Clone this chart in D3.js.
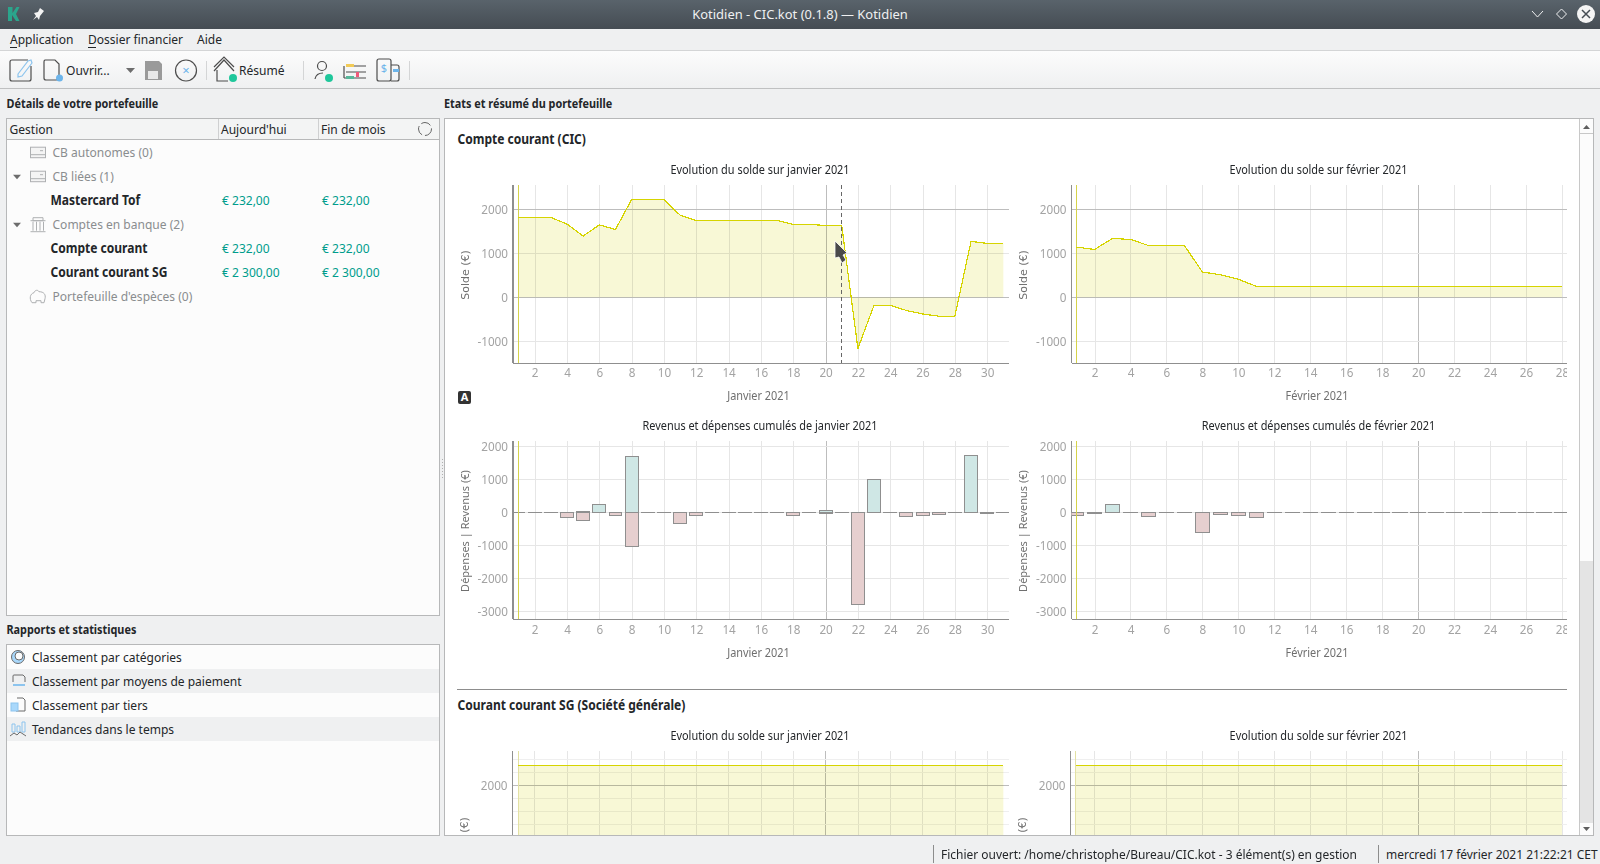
<!DOCTYPE html>
<html>
<head>
<meta charset="utf-8">
<style>
  html, body { margin: 0; padding: 0; background: #eff0f1; overflow: hidden; }
  svg { display: block; font-family: "Noto Sans", sans-serif; }
  /* the screenshot's hinted Noto Sans is about 10% narrower than ours */
  .tick-x text { transform-box: fill-box; transform-origin: center; transform: scaleX(.9); }
  .tick-y text { transform-box: fill-box; transform-origin: right center; transform: scaleX(.9); }
</style>
<script src="https://cdn.jsdelivr.net/npm/d3@7"></script>
</head>
<body>
<script>
// values (euros, one per day)
const janDays = d3.range(1, 32);
const febDays = d3.range(1, 29);

const janSolde = [1820, 1820, 1820, 1667, 1394, 1650, 1545, 2227, 2227, 2227, 1870, 1750, 1750, 1750, 1750, 1750, 1750, 1660, 1660, 1636, 1636, -1167, -182, -182, -300, -380, -430, -430, 1273, 1227, 1227];
const febSolde = [1144, 1090, 1340, 1318, 1180, 1180, 1180, 575, 515, 410, 250, 250, 250, 250, 250, 250, 250, 250, 250, 250, 250, 250, 250, 250, 250, 250, 250, 250];
const janRevenus = [0, 0, 0, 0, 30, 250, 0, 1700, 0, 0, 0, 0, 0, 0, 0, 0, 0, 0, 0, 40, 0, 0, 1000, 0, 0, 0, 0, 0, 1730, 0, 0];
const janDepenses = [0, 0, 0, -160, -250, 0, -100, -1030, 0, 0, -340, -100, 0, 0, 0, 0, 0, -100, 0, -40, 0, -2800, 0, 0, -130, -100, -70, 0, 0, -40, 0];
const febRevenus = [0, 0, 250, 0, 0, 0, 0, 0, 0, 0, 0, 0, 0, 0, 0, 0, 0, 0, 0, 0, 0, 0, 0, 0, 0, 0, 0, 0];
const febDepenses = [-100, -40, 0, 0, -130, 0, 0, -610, -70, -100, -160, 0, 0, 0, 0, 0, 0, 0, 0, 0, 0, 0, 0, 0, 0, 0, 0, 0];
const sgSolde = janDays.map(() => 2300);
const sgSoldeFev = febDays.map(() => 2300);

const soldeTicks = [-1000, 0, 1000, 2000];
const barTicks = [-3000, -2000, -1000, 0, 1000, 2000];
const sgTicks = [2000];
const sgMinor = [1400, 1600, 1800, 2200, 2400];
const evenDays = d3.range(2, 32, 2);
const evenDaysFev = d3.range(2, 29, 2);

const menus = [["Application", 10], ["Dossier financier", 88], ["Aide", 197]];
const treeRows = [
  ["CB autonomes (0)", null, null, 152.7, false, "card"],
  ["CB liées (1)", null, null, 176.7, false, "card"],
  ["Mastercard Tof", "€ 232,00", "€ 232,00", 200.5, true],
  ["Comptes en banque (2)", null, null, 224.7, false, "bank"],
  ["Compte courant", "€ 232,00", "€ 232,00", 248.7, true],
  ["Courant courant SG", "€ 2 300,00", "€ 2 300,00", 272.7, true],
  ["Portefeuille d'espèces (0)", null, null, 296.7, false, "pig"]
];
const reports = ["Classement par catégories", "Classement par moyens de paiement", "Classement par tiers", "Tendances dans le temps"];

const LINE = "#d6d400", AREA = "#f8f8d6", GRID = "#e6e6e6", GRID_DARK = "#bdbdbd", TICK = "#a3a3a3";
const INK = "#232629";

const svg = d3.select("body").append("svg").attr("width", 1600).attr("height", 864);
const defs = svg.append("defs");
const tb = defs.append("linearGradient").attr("id", "tbar").attr("x2", 0).attr("y2", 1);
tb.append("stop").attr("offset", 0).attr("stop-color", "#59636b");
tb.append("stop").attr("offset", 1).attr("stop-color", "#454c53");
const tl = defs.append("linearGradient").attr("id", "tool").attr("x2", 0).attr("y2", 1);
tl.append("stop").attr("offset", 0).attr("stop-color", "#fcfcfc");
tl.append("stop").attr("offset", 1).attr("stop-color", "#eff0f1");

function rect(p, x, y, w, h, fill, stroke) {
  return p.append("rect").attr("x", x).attr("y", y).attr("width", w).attr("height", h)
    .attr("fill", fill).attr("stroke", stroke || "none").attr("shape-rendering", "crispEdges");
}
function label(p, txt, x, y, size, color, weight, anchor, squeeze) {
  return p.append("text").attr("transform", `translate(${x},${y}) scale(${squeeze || .905},1)`).attr("dy", ".35em")
    .attr("font-size", size).attr("fill", color).attr("font-weight", weight || 400)
    .attr("text-anchor", anchor || "start").text(txt);
}
function hline(p, x1, x2, y, color) {
  p.append("line").attr("x1", x1).attr("x2", x2).attr("y1", y).attr("y2", y)
    .attr("stroke", color).attr("shape-rendering", "crispEdges");
}
function vline(p, x, y1, y2, color) {
  p.append("line").attr("x1", x).attr("x2", x).attr("y1", y1).attr("y2", y2)
    .attr("stroke", color).attr("shape-rendering", "crispEdges");
}

// ---------- window chrome ----------
rect(svg, 0, 0, 1600, 29, "url(#tbar)");
svg.append("path").attr("d", "M8 7h4.500v6l4-6h3l-3.500 7 3.500 7h-3.500l-4-6v6H8z").attr("fill", "#2ba58c");
svg.append("path").attr("d", "M44 11l-4-3-2 4-4 1 2 3-3 4 4-3 2 3 1-4z").attr("fill", "#f4f4f4");
label(svg, "Kotidien - CIC.kot (0.1.8) — Kotidien", 800, 14.5, 13.3, "#eff0f1", 400, "middle", .975);
svg.append("path").attr("d", "M1532 11l5.500 6 5.500-6").attr("fill", "none").attr("stroke", "#eff0f1");
svg.append("path").attr("d", "M1561.500 9l5 5-5 5-5-5z").attr("fill", "none").attr("stroke", "#eff0f1");
svg.append("circle").attr("cx", 1586).attr("cy", 14).attr("r", 9).attr("fill", "#f4f4f4");
svg.append("path").attr("d", "M1582 10l8 8M1590 10l-8 8").attr("stroke", "#454c53").attr("stroke-width", 1.5);

menus.forEach(m => label(svg, m[0], m[1], 39.5, 13.3, INK));
hline(svg, 10, 17, 47, INK);
hline(svg, 88, 96, 47, INK);

rect(svg, 0, 51, 1600, 37, "url(#tool)");
hline(svg, 0, 1600, 50.5, "#d4d5d6");
hline(svg, 0, 1600, 88.5, "#bfc0c1");
[206.5, 303.5, 409.5].forEach(x => vline(svg, x, 61, 80, "#d4d5d6"));

// toolbar icons, rough line drawings
const ic = svg.append("g").attr("fill", "none").attr("stroke", "#4d4d4d").attr("stroke-width", 1.2);
ic.append("path").attr("d", "M28 60H12a2 2 0 0 0-2 2v17a2 2 0 0 0 2 2h17a2 2 0 0 0 2-2V66");
ic.append("path").attr("d", "M18 74l10-13 3-1 1 3-10 13-4 1z").attr("stroke", "#8cc4ee");
ic.append("path").attr("d", "M45 60h10l4 4v13a3 3 0 0 1-3 3H46a2 2 0 0 1-2-2V62a2 2 0 0 1 1-2z");
svg.append("circle").attr("cx", 59.5).attr("cy", 78).attr("r", 3.5).attr("fill", "#6cb4ea");
label(svg, "Ouvrir...", 66, 70.5, 13.3, INK);
svg.append("path").attr("d", "M126 68h9l-4.500 5z").attr("fill", "#6d6d6d");
svg.append("path").attr("d", "M145 61h14l3 3v16h-17z").attr("fill", "#9a9a9a");
rect(svg, 148, 71, 10, 8, "#e8e8e8");
ic.append("circle").attr("cx", 186).attr("cy", 70.5).attr("r", 10.5);
label(svg, "×", 186, 70, 13, "#6cb4ea", 400, "middle", 1);
ic.append("path").attr("d", "M214 71l10-11 10 11M217 70v11h11M214 67l10-10 10 10");
svg.append("circle").attr("cx", 233).attr("cy", 78).attr("r", 4).attr("fill", "#1fc79b");
label(svg, "Résumé", 239, 70.5, 13.3, INK);
ic.append("circle").attr("cx", 322).attr("cy", 66).attr("r", 4.5);
ic.append("path").attr("d", "M315 79c1-5 5-6 8-6");
svg.append("circle").attr("cx", 329).attr("cy", 78).attr("r", 4).attr("fill", "#1fc79b");
ic.append("path").attr("d", "M346 66h20M346 72h20M344 78h22M344 66v12");
rect(svg, 346, 64, 8, 3, "#f2cb58");
rect(svg, 346, 76, 8, 3, "#58b79a");
rect(svg, 356, 72, 3, 5, "#f0597a");
ic.append("rect").attr("x", 377).attr("y", 59).attr("width", 14).attr("height", 22).attr("rx", 2);
ic.append("path").attr("d", "M391 65h6a2 2 0 0 1 2 2v12a2 2 0 0 1-2 2h-6");
rect(svg, 393, 69, 6, 3, "#6cb4ea");
label(svg, "$", 384, 68, 11, "#6cb4ea", 400, "middle", 1);

// ---------- left panels ----------
label(svg, "Détails de votre portefeuille", 6.5, 104, 12, INK, 700);
label(svg, "Etats et résumé du portefeuille", 444, 104, 12, INK, 700);

rect(svg, 6.5, 118.5, 433, 497, "#fcfcfc", "#b7b8b9");
rect(svg, 7, 119, 432, 20.5, "#f3f4f4");
hline(svg, 7, 439, 139.5, "#b7b8b9");
vline(svg, 218.5, 119, 139, "#cfd0d1");
vline(svg, 318.5, 119, 139, "#cfd0d1");
label(svg, "Gestion", 9.5, 129.7, 13.3, INK);
label(svg, "Aujourd'hui", 221, 129.7, 13.3, INK);
label(svg, "Fin de mois", 321, 129.7, 13.3, INK);
svg.append("circle").attr("cx", 425).attr("cy", 129).attr("r", 6.5).attr("fill", "none")
  .attr("stroke", "#666").attr("stroke-dasharray", "10 3");

const treeIcons = svg.append("g").attr("fill", "none").attr("stroke", "#aeb0b2");
treeRows.forEach(r => {
  const y = r[3];
  if (r[4]) {
    label(svg, r[0], 50.5, y, 13.3, INK, 700);
    label(svg, r[1], 222, y, 13.3, "#009c8c");
    label(svg, r[2], 322, y, 13.3, "#009c8c");
  } else {
    label(svg, r[0], 52.5, y, 13.3, "#8a8d8f");
    if (r[5] === "card") {
      treeIcons.append("rect").attr("x", 30.5).attr("y", y - 5.5).attr("width", 15).attr("height", 10.5).attr("fill", "#f4f4f4");
      treeIcons.append("path").attr("d", `M30.500 ${y + 2}h15M40 ${y - 2}h3`);
    } else if (r[5] === "bank") {
      treeIcons.append("path").attr("d", `M30.500 ${y - 4}h15M30.500 ${y + 7}h15M33 ${y - 3}v9M36.500 ${y - 3}v9M40 ${y - 3}v9M43.500 ${y - 3}v9M33 ${y - 7}h10v3H33z`);
    } else {
      treeIcons.append("path").attr("d", `M32 ${y + 6}c-3-4-2-9 2-10 1-3 4-3 5-1 5 0 7 3 6 7l-1 4h-3v-2h-5v2z`);
    }
  }
});
[176.7, 224.7].forEach(y => svg.append("path")
  .attr("d", `M13 ${y - 2}h8l-4 4.500z`).attr("fill", "#6d6d6d"));

label(svg, "Rapports et statistiques", 6.5, 630, 12, INK, 700);
rect(svg, 6.5, 644.5, 433, 191, "#fcfcfc", "#b7b8b9");
reports.forEach((r, i) => {
  if (i % 2) rect(svg, 7, 669 + 24 * (i - 1), 432, 24, "#eff0f1");
});
const repIcons = svg.append("g").attr("fill", "none").attr("stroke", "#6b6b6b");
reports.forEach((r, i) => {
  label(svg, r, 32, 657.5 + 24 * i, 13.3, INK);
  const y = 657 + 24 * i;
  if (i === 0) {
    repIcons.append("circle").attr("cx", 18).attr("cy", y).attr("r", 6.5).attr("fill", "#a9d8fb");
    repIcons.append("circle").attr("cx", 19).attr("cy", y - 1).attr("r", 4).attr("fill", "#fcfcfc");
  } else if (i === 1) {
    repIcons.append("path").attr("d", `M13 ${y + 1}v-6a1 1 0 0 1 1-1h9l2 2v5`);
    repIcons.append("path").attr("d", `M13 ${y + 4}h12`).attr("stroke", "#8cc4ee").attr("stroke-width", 2);
  } else if (i === 2) {
    repIcons.append("path").attr("d", `M17 ${y - 7}h6l2 2v11H16`);
    repIcons.append("rect").attr("x", 11).attr("y", y - 2).attr("width", 7).attr("height", 8).attr("fill", "#a9d8fb").attr("stroke", "#8cc4ee");
  } else {
    repIcons.append("path").attr("d", `M12 ${y - 5}h3v8h-3zM17 ${y - 3}h3v6h-3zM22 ${y - 7}h3v10h-3z`).attr("stroke", "#8cc4ee");
    repIcons.append("path").attr("d", `M10 ${y + 7}l4-3 3 2 3-3 3 2 3 2`);
  }
});

// ---------- right panel ----------
rect(svg, 444.5, 118.5, 1149, 717, "#fff", "#b7b8b9");
rect(svg, 1580, 119, 13, 716, "#fcfcfc");
rect(svg, 1580, 561, 13, 262, "#e4e4e4");
vline(svg, 1579.5, 119, 835, "#c8c8c8");
hline(svg, 1580, 1593, 133, "#c8c8c8");
svg.append("path").attr("d", "M1583 129l3.500-4 3.500 4z").attr("fill", "#5e5e5e");
svg.append("path").attr("d", "M1583 827l3.500 4 3.500-4z").attr("fill", "#5e5e5e");

label(svg, "Compte courant (CIC)", 457.5, 139.7, 13.3, INK, 700);
hline(svg, 457, 1567, 689.5, "#8d8d8d");
label(svg, "Courant courant SG (Société générale)", 457.5, 705.7, 13.3, INK, 700);

// panel clip: the last row of charts runs under the bottom edge
defs.append("clipPath").attr("id", "panel").append("rect")
  .attr("x", 445).attr("y", 119).attr("width", 1134).attr("height", 716);
const content = svg.append("g").attr("clip-path", "url(#panel)");

let clipId = 0;
function setup(o) {
  const g = content.append("g");
  const x = d3.scaleLinear().domain(o.dayDomain).range([o.left, o.right]);
  const y = d3.scaleLinear().domain(o.yDomain).range([o.bottom, o.top]);

  // grid
  g.append("g").attr("transform", `translate(0,${o.top})`)
    .call(d3.axisBottom(x).tickValues(o.dayTicks).tickSize(o.bottom - o.top).tickFormat(""))
    .call(a => a.select(".domain").remove())
    .call(a => a.selectAll("line").attr("stroke", d => d === 20 ? GRID_DARK : GRID).attr("shape-rendering", "crispEdges"));
  g.append("g").attr("transform", `translate(${o.left},0)`)
    .call(d3.axisRight(y).tickValues(o.yTicks.concat(o.yMinor || [])).tickSize(o.right - o.left).tickFormat(""))
    .call(a => a.select(".domain").remove())
    .call(a => a.selectAll("line").attr("stroke", d => (o.darkY || []).includes(d) ? GRID_DARK : (o.yMinor ? "#efefef" : GRID)).attr("shape-rendering", "crispEdges"));

  // axes; the last day label gets cut at the plot's right edge in the app
  if (o.xLabels !== false) {
    const id = "ax" + (clipId++);
    defs.append("clipPath").attr("id", id).append("rect")
      .attr("x", o.left - 60).attr("y", o.top).attr("width", o.right - o.left + 60).attr("height", o.bottom - o.top + 30);
    const ax = g.append("g").attr("clip-path", `url(#${id})`).append("g").attr("class", "tick-x")
      .attr("transform", `translate(0,${o.bottom})`)
      .call(d3.axisBottom(x).tickValues(o.dayTicks).tickSize(0).tickPadding(5));
    ax.select(".domain").remove();
    ax.selectAll("text").attr("fill", TICK).attr("font-size", 13).attr("font-family", '"Noto Sans"');
  }
  hline(g, o.left, o.right, o.bottom, "#8f8f8f");

  const ay = g.append("g").attr("class", "tick-y").attr("transform", `translate(${o.left},0)`)
    .call(d3.axisLeft(y).tickValues(o.yTicks).tickFormat(d => String(d)).tickSize(0).tickPadding(5));
  ay.select(".domain").remove();
  ay.selectAll("text").attr("fill", TICK).attr("font-size", 13).attr("font-family", '"Noto Sans"');
  g.append("line").attr("x1", o.left).attr("x2", o.left).attr("y1", o.top).attr("y2", o.bottom)
    .attr("stroke", "#8f8f8f").attr("stroke-width", 1.5).attr("shape-rendering", "crispEdges");

  label(g, o.title, o.titleX, o.top - 15, 12, INK, 400, "middle", .91);
  if (o.xTitle) label(g, o.xTitle, o.titleX - 1.5, o.bottom + 33, 12, "#6f6f6f", 400, "middle", .91);
  g.append("text").attr("transform", `translate(${o.left - 48},${o.yTitleY}) rotate(-90)`).attr("dy", ".35em")
    .attr("text-anchor", "middle").attr("font-size", o.yTitleSize).attr("fill", "#6f6f6f")
    .attr("font-family", o.yTitleFont).text(o.yTitle);
  return { g, x, y };
}

function soldeChart(o, days, values) {
  const { g, x, y } = setup(o);
  const pts = days.map((d, i) => [d, values[i]]);
  g.append("path").attr("fill", AREA).attr("style", "mix-blend-mode:multiply")
    .attr("d", d3.area().x(d => x(d[0])).y0(y(0)).y1(d => y(d[1]))(pts));
  vline(g, x(1), o.top, o.bottom, o.dayOneColor || "#d6d34a");
  g.append("path").attr("fill", "none").attr("stroke", LINE).attr("stroke-width", 1.2)
    .attr("shape-rendering", "crispEdges")
    .attr("d", d3.line().x(d => x(d[0])).y(d => y(d[1]))(pts));
  return { g, x, y };
}

function barChart(o, days, revenus, depenses) {
  const { g, x, y } = setup(o);
  const id = "bars" + (clipId++);
  defs.append("clipPath").attr("id", id).append("rect")
    .attr("x", o.left).attr("y", o.top).attr("width", o.right - o.left).attr("height", o.bottom - o.top);
  const w = (x(2) - x(1)) * 0.8;
  const bars = g.append("g").attr("clip-path", `url(#${id})`);
  // zero days still draw their outline, which gives the dashed look on the zero line
  bars.selectAll(".dep").data(days).join("rect").attr("class", "dep")
    .attr("x", d => x(d) - w / 2).attr("width", w)
    .attr("y", y(0)).attr("height", (d, i) => Math.max(.01, y(depenses[i]) - y(0)))
    .attr("fill", "#e6cfcf").attr("stroke", "#8f8f8f").attr("shape-rendering", "crispEdges");
  bars.selectAll(".rev").data(days).join("rect").attr("class", "rev")
    .attr("x", d => x(d) - w / 2).attr("width", w)
    .attr("y", (d, i) => y(revenus[i])).attr("height", (d, i) => Math.max(.01, y(0) - y(revenus[i])))
    .attr("fill", "#cfe7e5").attr("stroke", "#8f8f8f").attr("shape-rendering", "crispEdges");
  vline(g, x(1), o.top, o.bottom, "#d6d34a");
}

// x geometry of the two columns
const janCol = { left: 513, right: 1009, dayDomain: [0.66, 31.35], dayTicks: evenDays, titleX: 760 };
const febCol = { left: 1071.5, right: 1567, dayDomain: [0.72, 28.28], dayTicks: evenDaysFev, titleX: 1318.5 };
const soldeRow = { top: 185, bottom: 363, yDomain: [-1497, 2558], yTicks: soldeTicks, darkY: [0, 2000],
  yTitle: "Solde (€)", yTitleY: 275, yTitleSize: 11, yTitleFont: '"DejaVu Sans"' };
const barRow = { top: 441, bottom: 619.3, yDomain: [-3242, 2160], yTicks: barTicks,
  yTitle: "Dépenses | Revenus (€)", yTitleY: 531, yTitleSize: 11, yTitleFont: '"Noto Sans"' };
// only the top of this row is visible, the rest is scrolled out of the panel
const sgRow = { top: 751, bottom: 929, yDomain: [-210, 2528], yTicks: sgTicks, yMinor: sgMinor, darkY: [2000], xLabels: false,
  yTitle: "(€)", yTitleY: 825, yTitleSize: 11, yTitleFont: '"DejaVu Sans"', dayOneColor: "#e3e1a4" };

const jan = soldeChart({ ...janCol, ...soldeRow, title: "Evolution du solde sur janvier 2021", xTitle: "Janvier 2021" }, janDays, janSolde);
soldeChart({ ...febCol, ...soldeRow, title: "Evolution du solde sur février 2021", xTitle: "Février 2021" }, febDays, febSolde);
barChart({ ...janCol, ...barRow, title: "Revenus et dépenses cumulés de janvier 2021", xTitle: "Janvier 2021" }, janDays, janRevenus, janDepenses);
barChart({ ...febCol, ...barRow, title: "Revenus et dépenses cumulés de février 2021", xTitle: "Février 2021" }, febDays, febRevenus, febDepenses);
soldeChart({ ...janCol, ...sgRow, left: 512.5, title: "Evolution du solde sur janvier 2021" }, janDays, sgSolde);
soldeChart({ ...febCol, ...sgRow, left: 1070.5, title: "Evolution du solde sur février 2021" }, febDays, sgSoldeFev);

// today marker on the january chart
jan.g.append("line").attr("x1", jan.x(21)).attr("x2", jan.x(21)).attr("y1", 185).attr("y2", 363)
  .attr("stroke", "#666").attr("stroke-dasharray", "4 3").attr("shape-rendering", "crispEdges");

// "A" badge and mouse pointer
svg.append("rect").attr("x", 458).attr("y", 391).attr("width", 13).attr("height", 13).attr("rx", 2).attr("fill", "#333");
label(svg, "A", 464.5, 397.5, 11, "#fff", 700, "middle", 1);
svg.append("path").attr("d", "M835 241v17l4-1 3 6 4-3-3-5 4-2z").attr("fill", "#4a4a4a").attr("stroke", "#fff").attr("stroke-width", .8);

// splitter dots
d3.range(459, 478, 3).forEach(y => rect(svg, 442, y, 1, 1, "#b0b0b0"));

// ---------- status bar ----------
vline(svg, 933.5, 845, 863, "#8d8d8d");
vline(svg, 1378.5, 845, 863, "#8d8d8d");
label(svg, "Fichier ouvert: /home/christophe/Bureau/CIC.kot - 3 élément(s) en gestion", 941, 854, 13.3, INK, 400, "start", .9);
label(svg, "mercredi 17 février 2021 21:22:21 CET", 1386, 854, 13.3, INK, 400, "start", .9);
</script>
</body>
</html>
